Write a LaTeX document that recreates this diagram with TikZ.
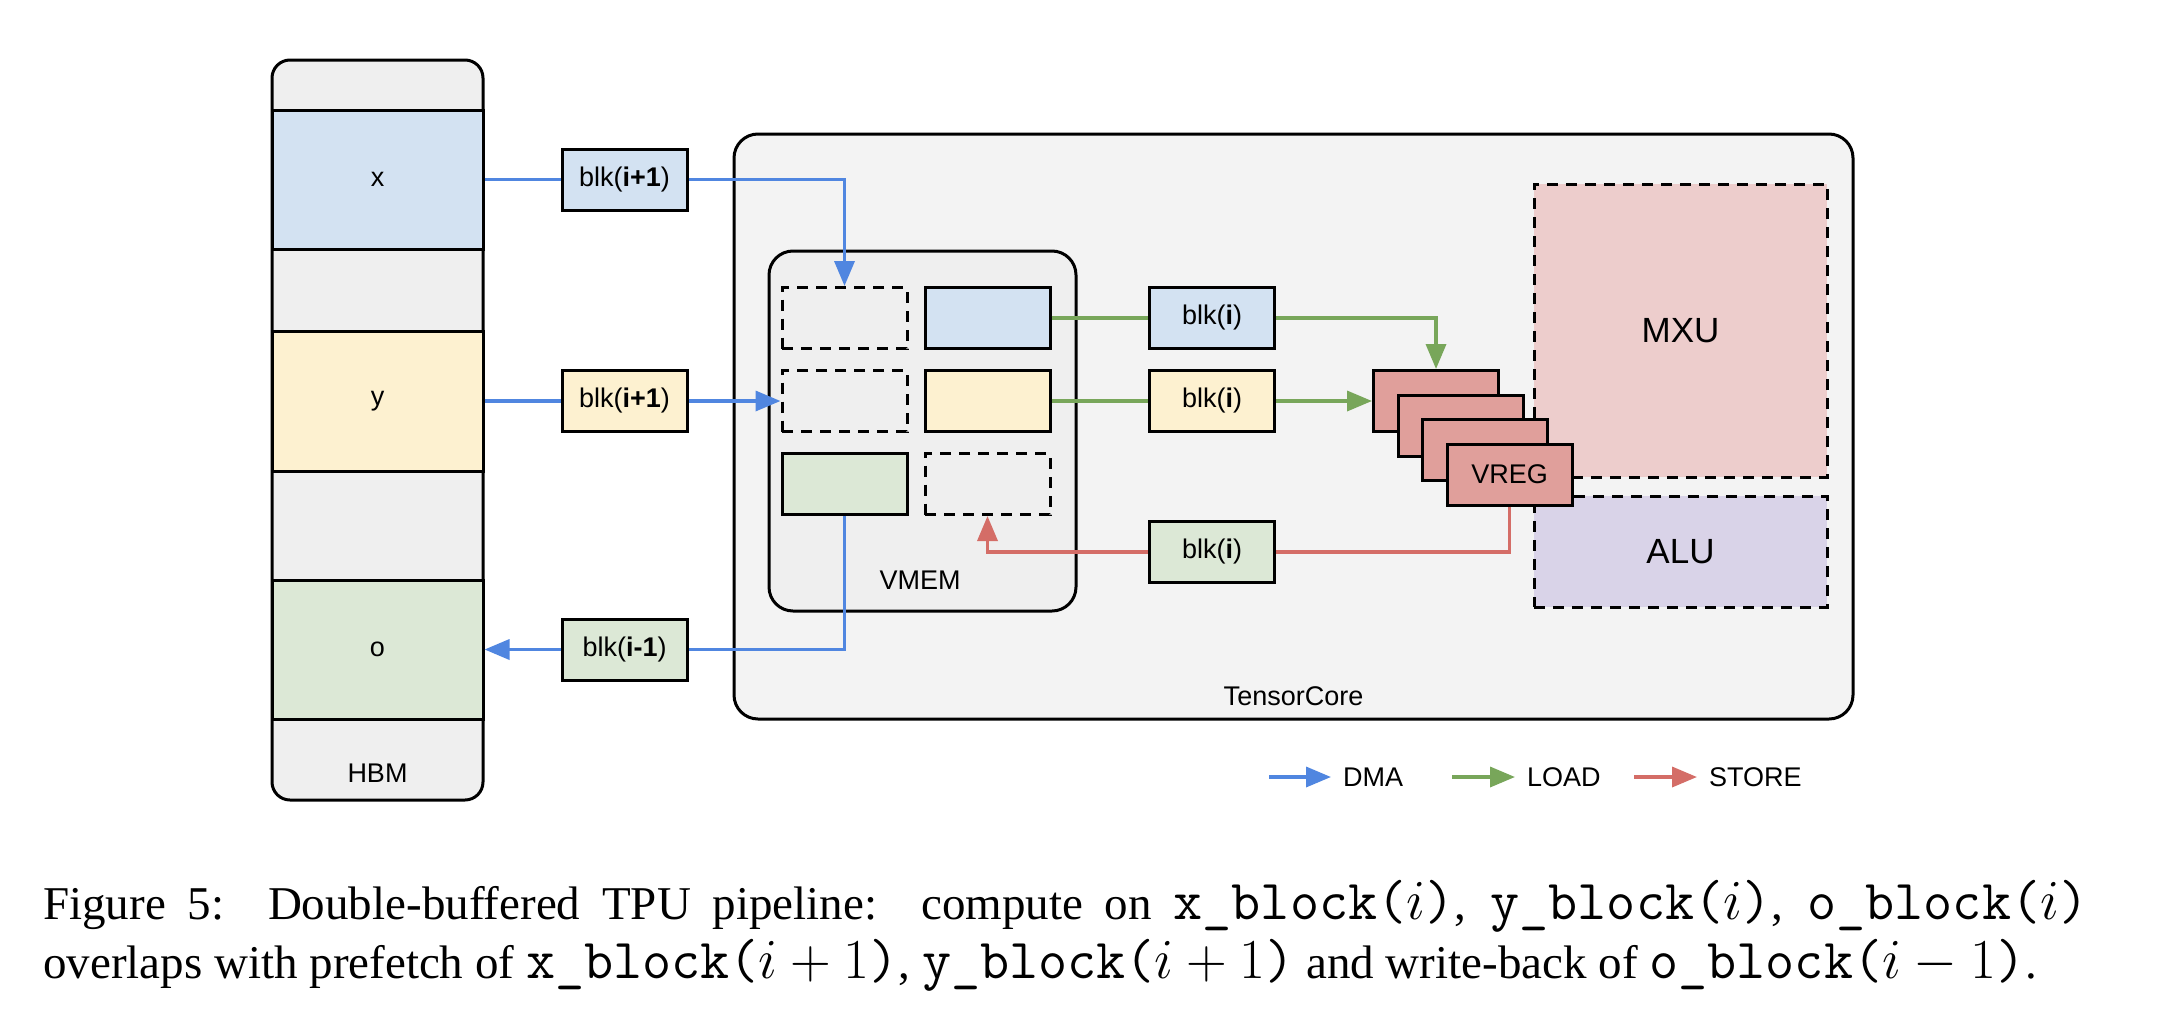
\IfFileExists{fix-cm.sty}{\RequirePackage{fix-cm}}{}
\documentclass[tikz,border=0pt]{standalone}
\usepackage{fontspec}
\setmainfont{Liberation Sans}
\newfontfamily\capfont{Liberation Serif}
\usepackage{tikz}
\usetikzlibrary{arrows.meta,positioning}
\definecolor{hbmgray}{HTML}{EFEFEF}
\definecolor{coregray}{HTML}{F3F3F3}
\definecolor{xblue}{HTML}{D3E2F2}
\definecolor{yyellow}{HTML}{FDF1D0}
\definecolor{ogreen}{HTML}{DCE8D6}
\definecolor{vregred}{HTML}{E09F9B}
\definecolor{mxured}{HTML}{EDCDCC}
\definecolor{alupurple}{HTML}{D9D3E8}
\definecolor{dmablue}{HTML}{5086E0}
\definecolor{loadgreen}{HTML}{78A65A}
\definecolor{storered}{HTML}{D46D67}
\tikzstyle{band}=[rectangle,draw=black,line width=3pt,minimum width=211pt,inner sep=0pt]
\tikzstyle{blk}=[rectangle,draw=black,line width=3pt,minimum width=125pt,minimum height=61pt,inner sep=0pt]
\tikzstyle{hole}=[blk,fill=hbmgray,dash pattern=on 11pt off 8pt]
\tikzstyle{vreg}=[blk,fill=vregred]
\tikzstyle{unit}=[rectangle,draw=black,line width=3pt,dash pattern=on 11pt off 8pt,minimum width=293pt,inner sep=0pt,font=\fontsize{35}{40}\selectfont]
\tikzstyle{dmaline}=[draw=dmablue,line width=3.5pt]
\tikzstyle{loadline}=[draw=loadgreen,line width=3.5pt]
\tikzstyle{storeline}=[draw=storered,line width=3.5pt]
\tikzstyle{dma}=[dmaline,-{Triangle[length=25pt,width=20pt]}]
\tikzstyle{load}=[loadline,-{Triangle[length=25pt,width=20pt]}]
\tikzstyle{store}=[storeline,-{Triangle[length=25pt,width=20pt]}]
\tikzstyle{capline}=[anchor=base west,inner sep=0pt,font=\capfont\fontsize{47}{50}\selectfont]
\newcommand{\pxunit}{1pt}
\newcommand{\blkcode}[1]{{\fontsize{56.5}{50}\selectfont\texttt{#1}}}

\begin{document}
\begin{tikzpicture}[x=\pxunit,y=-\pxunit,font=\fontsize{27}{32}\selectfont]
    \useasboundingbox (0,0) rectangle (2160,1020);

    % HBM
    \node[rectangle,draw=black,line width=3pt,fill=hbmgray,rounded corners=18pt,
          minimum width=211pt,minimum height=740pt] (hbm) at (377.5,430) {};
    \node[band,fill=xblue,minimum height=139pt] (hx) at (377.5,179.5) {x};
    \node[band,fill=yyellow,minimum height=140pt] (hy) at (377.5,401) {y};
    \node[band,fill=ogreen,minimum height=139pt] (ho) at (377.5,649.5) {o};
    \node (hbmlbl) at (377.5,773) {HBM};

    % TensorCore and VMEM
    \node[rectangle,draw=black,line width=3pt,fill=coregray,rounded corners=24pt,
          minimum width=1119pt,minimum height=585pt] (core) at (1293.5,426.5) {};
    \node (corelbl) at (1293.5,696) {TensorCore};
    \node[rectangle,draw=black,line width=3pt,fill=hbmgray,rounded corners=24pt,
          minimum width=307pt,minimum height=360pt] (vmem) at (922.5,431) {};
    \node (vmemlbl) at (920,580) {VMEM};

    \node[hole] (vx0) at (844.5,318) {};
    \node[blk,fill=xblue] (vx1) at (987.5,318) {};
    \node[hole] (vy0) at (844.5,401) {};
    \node[blk,fill=yyellow] (vy1) at (987.5,401) {};
    \node[blk,fill=ogreen] (vo1) at (844.5,484) {};
    \node[hole] (vo0) at (987.5,484) {};

    % blocks in flight
    \node[blk,fill=xblue] (bx) at (624.5,179.5) {blk(\textbf{i+1})};
    \node[blk,fill=yyellow] (by) at (624.5,401) {blk(\textbf{i+1})};
    \node[blk,fill=ogreen] (bo) at (624.5,649.5) {blk(\textbf{i-1})};
    \node[blk,fill=xblue] (lx) at (1212,318) {blk(\textbf{i})};
    \node[blk,fill=yyellow] (ly) at (1212,401) {blk(\textbf{i})};
    \node[blk,fill=ogreen] (so) at (1212,552) {blk(\textbf{i})};

    % compute units
    \node[unit,fill=mxured,minimum height=293pt] (mxu) at (1680.5,330.5) {MXU};
    \node[unit,fill=alupurple,minimum height=111pt] (alu) at (1680.5,551.5) {ALU};

    \node[vreg] (vreg1) at (1436,401) {};
    \node[vreg] (vreg2) at (1460.5,425.5) {};
    \node[vreg] (vreg3) at (1485,450) {};
    \node[vreg] (vreg4) at (1509.5,474.5) {VREG};

    % DMA
    \draw[dmaline] (hx.east) -- (bx.west);
    \draw[dma] (bx.east) -| (vx0.north);
    \draw[dmaline] (hy.east) -- (by.west);
    \draw[dma] (by.east) -- (vy0.west);
    \draw[dmaline] (vo1.south) |- (bo.east);
    \draw[dma] (bo.west) -- (ho.east);

    % LOAD / STORE
    \draw[loadline] (vx1.east) -- (lx.west);
    \draw[load] (lx.east) -| (vreg1.north);
    \draw[loadline] (vy1.east) -- (ly.west);
    \draw[load] (ly.east) -- (vreg1.west);
    \draw[storeline] (vreg4.south) |- (so.east);
    \draw[store] (so.west) -| (vo0.south);

    % legend
    \coordinate (dmaA) at (1269,777);
    \coordinate (dmaB) at (1331,777);
    \draw[dma] (dmaA) -- (dmaB);
    \node[anchor=west,inner sep=0pt] (dmatxt) at (1343,777) {DMA};
    \coordinate (loadA) at (1452,777);
    \coordinate (loadB) at (1515,777);
    \draw[load] (loadA) -- (loadB);
    \node[anchor=west,inner sep=0pt] (loadtxt) at (1527,777) {LOAD};
    \coordinate (storeA) at (1634,777);
    \coordinate (storeB) at (1697,777);
    \draw[store] (storeA) -- (storeB);
    \node[anchor=west,inner sep=0pt] (storetxt) at (1709,777) {STORE};

    % caption
    \node[capline] (cap1) at (43,919) {\makebox[2045pt][s]{Figure 5:\ \ Double-buffered TPU pipeline:\ \ compute on
       \blkcode{x\_block($i$)}, \blkcode{y\_block($i$)}, \blkcode{o\_block($i$)}}};
    \node[capline] (cap2) at (43,978) {overlaps with prefetch of \blkcode{x\_block($i+1$)}, \blkcode{y\_block($i+1$)} and
       write-back of \blkcode{o\_block($i-1$)}.};
\end{tikzpicture}
\end{document}
